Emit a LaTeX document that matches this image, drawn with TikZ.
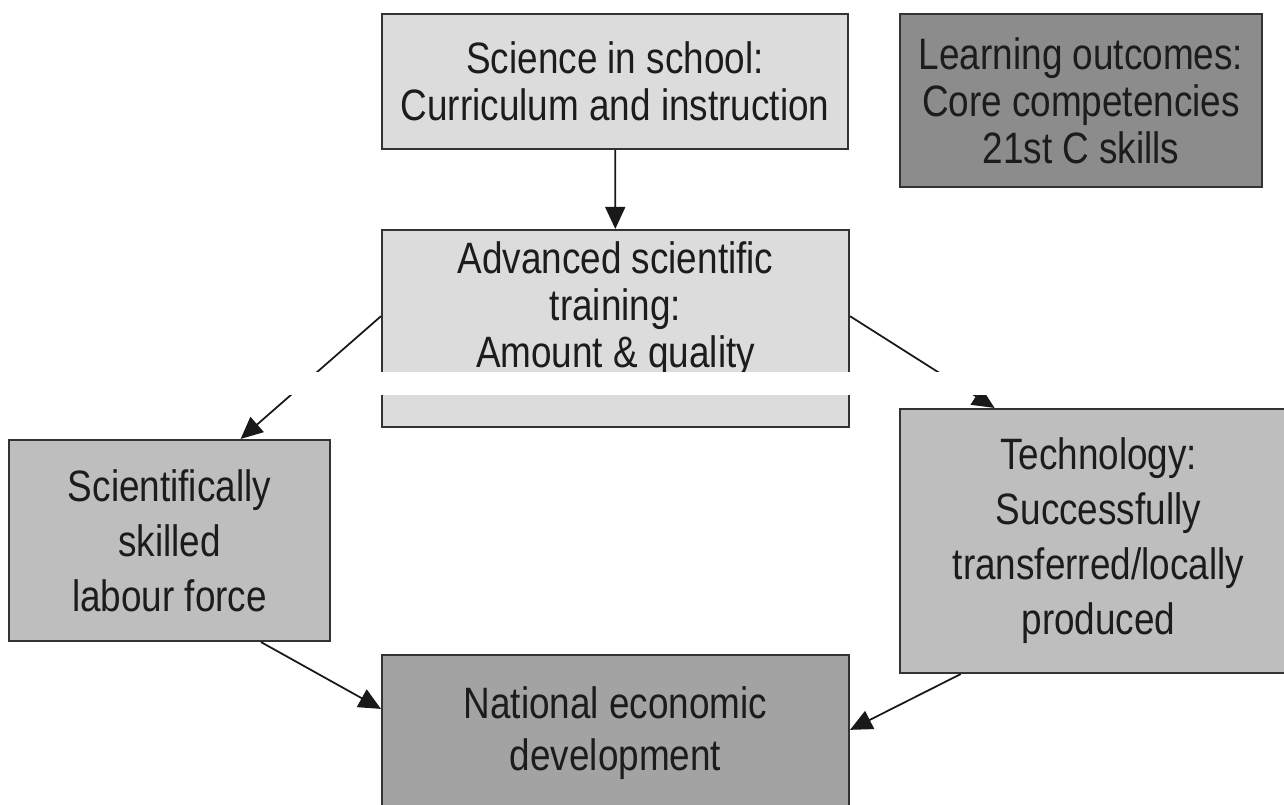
\documentclass[tikz,border=0pt]{standalone}
\usepackage{fontspec}
\setmainfont[FakeStretch=0.84]{Liberation Sans}
\usetikzlibrary{arrows.meta}

\definecolor{lightgrey}{HTML}{DCDCDC}
\definecolor{midgrey}{HTML}{BEBEBE}
\definecolor{darkgrey}{HTML}{A3A3A3}
\definecolor{deepgrey}{HTML}{8C8C8C}
\definecolor{edgegrey}{HTML}{333333}
\definecolor{inkgrey}{HTML}{1C1C1C}

\tikzstyle{lightbox}=[rectangle, draw=edgegrey, fill=lightgrey, line width=1.2pt, inner sep=0pt, align=center, text=inkgrey, font=\fontsize{25}{26.8}\selectfont]
\tikzstyle{midbox}=[lightbox, fill=midgrey, font=\fontsize{25}{31.3}\selectfont]
\tikzstyle{darkbox}=[lightbox, fill=darkgrey, font=\fontsize{25}{29.6}\selectfont]
\tikzstyle{deepbox}=[lightbox, fill=deepgrey]
\tikzstyle{link}=[line width=1pt, draw=black!90, -{Triangle[length=4.4mm, width=4mm]}]

\begin{document}
\begin{tikzpicture}[x=0.2mm, y=-0.2mm]
\useasboundingbox (0,0) rectangle (1284,805);
\fill [white] (0,0) rectangle (1284,805);
\clip (0,0) rectangle (1284,805);

\node [lightbox, minimum width=93.2mm, minimum height=27mm] (school) at (615,81.5) {Science in school:\\Curriculum and instruction};
\node [deepbox, minimum width=72.4mm, minimum height=34.6mm] (outcomes) at (1081,100.5) {Learning outcomes:\\Core competencies\\21st C skills};
\node [lightbox, minimum width=93.4mm, minimum height=39.4mm] (training) at (615.5,328.5) {Advanced scientific\\training:\\Amount \& quality\\\mbox{}};
\node [midbox, minimum width=64.2mm, minimum height=40.2mm] (skilled) at (169.5,540.5) {Scientifically\\skilled\\labour force};
\node [midbox, minimum width=79.4mm, minimum height=52.8mm] (tech) at (1098.5,541) {Technology:\\Successfully\\transferred/locally\\produced};
\node [darkbox, minimum width=93.4mm, minimum height=39.8mm] (national) at (615.5,754.5) {National economic\\development\\\mbox{}};

\draw [link] (school) -- (training);
\draw [link] (training.177) -- (skilled.55);
\draw [link] (training.3) -- (tech.128.6);
\draw [link] (skilled.-48) -- (national.169);
\draw [link] (tech.224) -- (national.6);

% strip across the middle
\fill [white] (0,372) rectangle (1284,395);
\end{tikzpicture}
\end{document}
